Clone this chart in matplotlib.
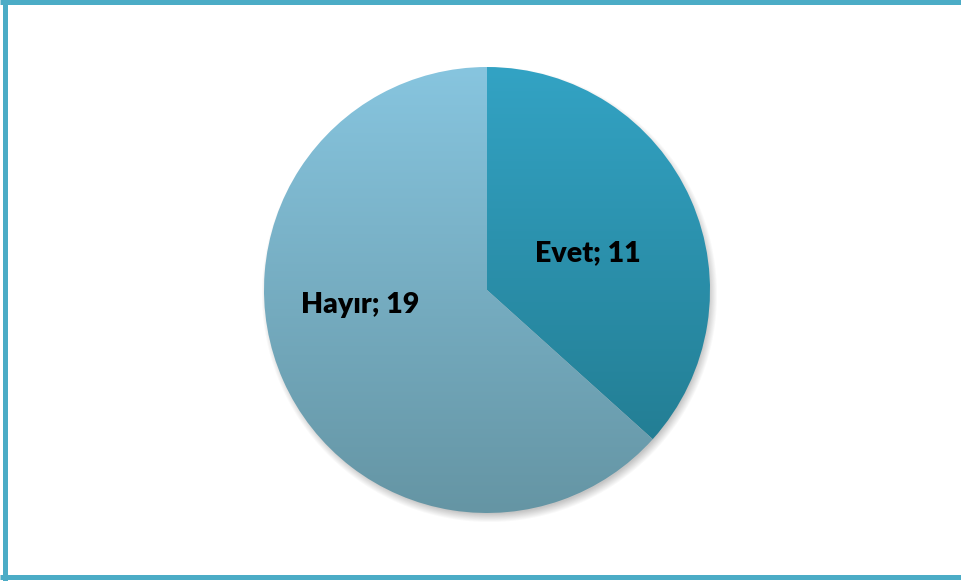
import numpy as np
import matplotlib.pyplot as plt
from matplotlib.colors import to_rgb, LinearSegmentedColormap

# Données
labels = ["Evet", "Hayır"]
values = [11, 19]
top_colors = ["#33A3C4", "#87C5DF"]
bottom_colors = ["#20778B", "#6595A4"]

W, H = 961, 581
fig = plt.figure(figsize=(W / 100, H / 100), dpi=100)
ax = fig.add_axes([0, 0, 1, 1])

cx, cy, r = 487, H - 290, 223

# Ombre douce (bas-droite)
yy, xx = np.mgrid[0:H, 0:W]
d = np.hypot(xx - (cx + 2), (H - yy) - (cy - 4))
alpha = np.clip((r + 5 - d) / 9, 0, 1) * 0.35
shadow = np.zeros((H, W, 4))
shadow[..., :3] = 0.35
shadow[..., 3] = alpha
ax.imshow(shadow, extent=(0, W, 0, H), origin="upper", zorder=1, interpolation="bilinear")

wedges, _ = ax.pie(values, startangle=90, counterclock=False, center=(cx, cy),
                   radius=r, wedgeprops=dict(facecolor="none", edgecolor="none"))

# Dégradé vertical dans chaque part
grad = np.linspace(0, 1, 256).reshape(-1, 1)
for w, c_top, c_bot in zip(wedges, top_colors, bottom_colors):
    cmap = LinearSegmentedColormap.from_list("g", [to_rgb(c_top), to_rgb(c_bot)])
    im = ax.imshow(grad, cmap=cmap, extent=(cx - r, cx + r, cy - r, cy + r),
                   origin="upper", aspect="auto", zorder=2)
    im.set_clip_path(w)
    w.set_zorder(3)

# Étiquettes
fam = ["Lato", "DejaVu Sans"]
ax.text(588, H - 253, f"{labels[0]}; {values[0]}", ha="center", va="center",
        fontsize=20.5, fontweight="heavy", family=fam, zorder=5)
ax.text(360, H - 305, f"{labels[1]}; {values[1]}", ha="center", va="center",
        fontsize=20.5, fontweight="heavy", family=fam, zorder=5)

# Cadre
bc = "#4BACC6"
lw = 5 * 72 / 100
ax.plot([0, W], [H - 2, H - 2], color=bc, lw=lw, solid_capstyle="butt", zorder=6)
ax.plot([4.5, 4.5], [0, H], color=bc, lw=lw, solid_capstyle="butt", zorder=6)
ax.plot([0, W], [H - 576.5, H - 576.5], color=bc, lw=lw, solid_capstyle="butt", zorder=6)

ax.set_xlim(0, W)
ax.set_ylim(0, H)
ax.set_aspect("auto")
ax.axis("off")
fig.savefig("out.png", dpi=100)
